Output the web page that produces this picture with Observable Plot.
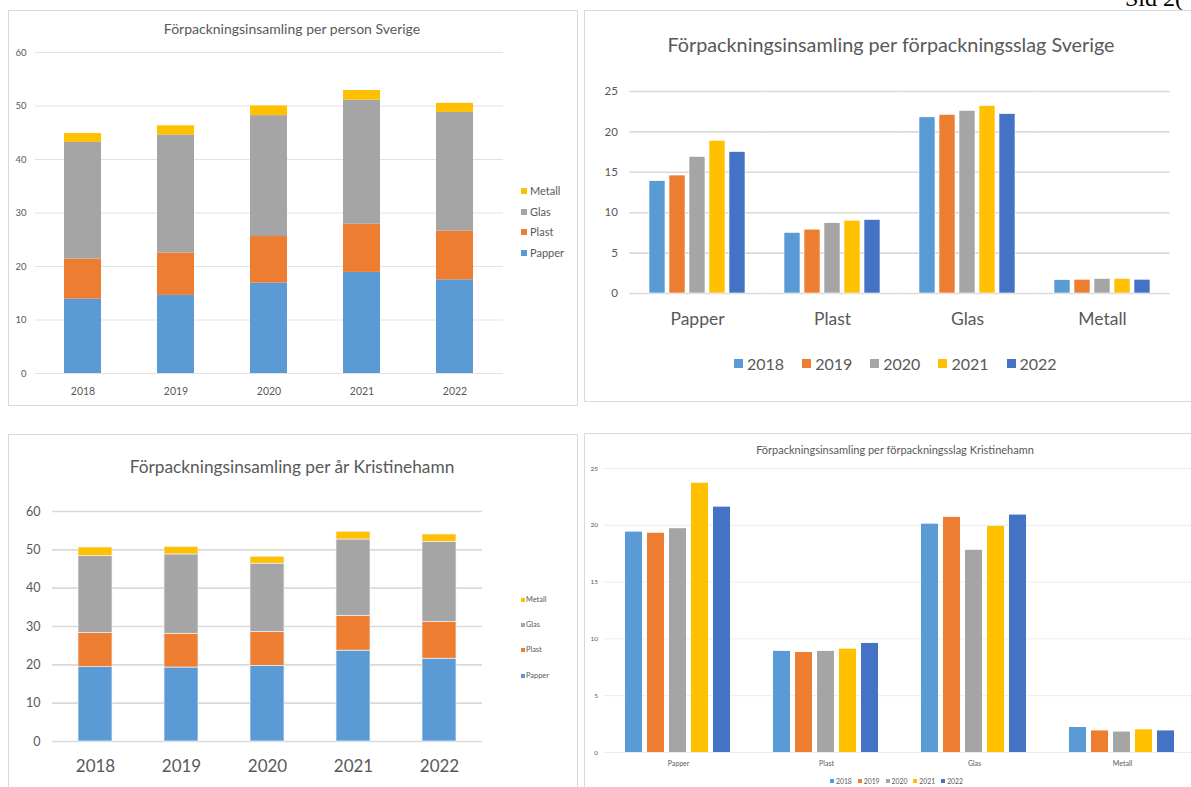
<!DOCTYPE html>
<html>
<head>
<meta charset="utf-8">
<script src="https://cdn.jsdelivr.net/npm/d3@7"></script>
<script src="https://cdn.jsdelivr.net/npm/@observablehq/plot@0.6"></script>
<style>
  html, body { margin: 0; padding: 0; background: #fff; }
  body { width: 1191px; height: 787px; overflow: hidden; position: relative; font-family: Lato, "Open Sans", sans-serif; color: #595959; }
  .panel { position: absolute; border: 1.5px solid #d9d9d9; box-sizing: border-box; background: #fff; }
  .abs { position: absolute; }
  .title { position: absolute; white-space: nowrap; transform: translateX(-50%); line-height: 1.2; color: #595959; }
  .legv { position: absolute; display: flex; align-items: center; white-space: nowrap; line-height: 1.2; color: #595959; }
  .legv i { display: inline-block; flex: none; }
  .legh { position: absolute; display: flex; align-items: center; white-space: nowrap; line-height: 1.2; color: #595959; }
  .legh span { display: flex; align-items: center; }
  .legh i { display: inline-block; flex: none; }
</style>
</head>
<body>
<script>
// ---------- DATA ----------
const years = ["2018", "2019", "2020", "2021", "2022"];
const materials = ["Papper", "Plast", "Glas", "Metall"];

// Förpackningsinsamling Sverige (kg per person)
const sverigePapper = [13.9, 14.6, 16.9, 18.9, 17.5];
const sverigePlast  = [7.5, 7.9, 8.7, 9.0, 9.1];
const sverigeGlas   = [21.8, 22.1, 22.6, 23.2, 22.2];
const sverigeMetall = [1.65, 1.7, 1.8, 1.8, 1.7];

// Förpackningsinsamling Kristinehamn (kg per person)
const kristPapper = [19.4, 19.3, 19.7, 23.7, 21.6];
const kristPlast  = [8.9, 8.8, 8.9, 9.1, 9.6];
const kristGlas   = [20.1, 20.7, 17.8, 19.9, 20.9];
const kristMetall = [2.2, 1.9, 1.8, 2.0, 1.9];

// tick labels
const ticks60 = [0, 10, 20, 30, 40, 50, 60];
const ticks25 = [0, 5, 10, 15, 20, 25];

// titles
const title1 = "Förpackningsinsamling per person Sverige";
const title2 = "Förpackningsinsamling per förpackningsslag Sverige";
const title3 = "Förpackningsinsamling per år Kristinehamn";
const title4 = "Förpackningsinsamling per förpackningsslag Kristinehamn";
const pageText = "Sid 2(";

// colours
const materialColors = ["#5B9BD5", "#ED7D31", "#A5A5A5", "#FFC000"];
const yearColors = ["#5B9BD5", "#ED7D31", "#A5A5A5", "#FFC000", "#4472C4"];

// ---------- helpers ----------
function table(series) {
  const rows = [];
  materials.forEach((m, i) => years.forEach((y, j) => rows.push({material: m, year: y, value: series[i][j]})));
  return rows;
}
const sverigeRows = table([sverigePapper, sverigePlast, sverigeGlas, sverigeMetall]);
const kristRows = table([kristPapper, kristPlast, kristGlas, kristMetall]);

function el(tag, cls, css, text) {
  const e = document.createElement(tag);
  if (cls) e.className = cls;
  Object.assign(e.style, css || {});
  if (text != null) e.textContent = text;
  document.body.appendChild(e);
  return e;
}
function place(node, left, top) {
  node.style.position = "absolute";
  node.style.left = left + "px";
  node.style.top = top + "px";
  document.body.appendChild(node);
}
function title(text, cx, cy, size) {
  el("div", "title", {left: cx + "px", top: (cy - size * 0.62) + "px", fontSize: size + "px"}, text);
}
function vlegend(left, ys, size, sq, gap) {
  const names = materials.slice().reverse();
  const cols = materialColors.slice().reverse();
  names.forEach((n, i) => {
    const d = el("div", "legv", {left: left + "px", top: (ys[i] - size * 0.6) + "px", fontSize: size + "px"});
    const s = document.createElement("i");
    Object.assign(s.style, {width: sq + "px", height: sq + "px", background: cols[i], marginRight: gap + "px"});
    d.appendChild(s);
    d.appendChild(document.createTextNode(n));
  });
}
function hlegend(left, cy, size, sq, gapIn, gapOut) {
  const d = el("div", "legh", {left: left + "px", top: (cy - size * 0.6) + "px", fontSize: size + "px", gap: gapOut + "px"});
  years.forEach((y, i) => {
    const sp = document.createElement("span");
    const s = document.createElement("i");
    Object.assign(s.style, {width: sq + "px", height: sq + "px", background: yearColors[i], marginRight: gapIn + "px"});
    sp.appendChild(s);
    sp.appendChild(document.createTextNode(y));
    d.appendChild(sp);
  });
}
const baseStyle = {fontFamily: "Lato, 'Open Sans', sans-serif", color: "#595959", background: "transparent", overflow: "visible"};

// ---------- page number (cut off at top, as in the scanned page) ----------
el("div", "abs", {left: "1125px", top: "-14px", fontFamily: "'Liberation Serif', serif", fontSize: "24px", lineHeight: "1", color: "#000", whiteSpace: "nowrap"}, pageText);

// ---------- panels ----------
el("div", "panel", {left: "8px", top: "10px", width: "570px", height: "396px"});
el("div", "panel", {left: "584px", top: "10px", width: "640px", height: "392px"});
el("div", "panel", {left: "8px", top: "434px", width: "570px", height: "400px"});
el("div", "panel", {left: "584px", top: "433px", width: "640px", height: "400px"});

// ---------- Chart 1: per person Sverige (stacked) ----------
title(title1, 292, 30, 14);
place(Plot.plot({
  width: 568, height: 393,
  marginLeft: 26, marginRight: 74, marginTop: 41, marginBottom: 31,
  style: baseStyle,
  x: {domain: years, paddingInner: 0.6, paddingOuter: 0.3},
  y: {domain: [0, 60]},
  color: {domain: materials, range: materialColors},
  marks: [
    Plot.ruleY(ticks60, {stroke: "#e2e2e2", strokeWidth: 1}),
    Plot.barY(sverigeRows, {x: "year", y: "value", fill: "material"}),
    Plot.axisX({tickSize: 0, tickPadding: 14, fontSize: 10.5, label: null}),
    Plot.axisY({ticks: ticks60, tickSize: 0, tickPadding: 9, fontSize: 9.5, label: null})
  ]
}), 9, 11);
vlegend(521, [191, 212, 232, 253], 11, 6, 3);

// ---------- Chart 2: per förpackningsslag Sverige (grouped) ----------
title(title2, 891, 45, 19.8);
place(Plot.plot({
  width: 606, height: 389,
  marginLeft: 43, marginRight: 21, marginTop: 80, marginBottom: 107,
  style: baseStyle,
  fx: {domain: materials, paddingInner: 0.26, paddingOuter: 0.13},
  x: {domain: years, paddingInner: 0.2, paddingOuter: 0, axis: null},
  y: {domain: [0, 25]},
  color: {domain: years, range: yearColors},
  marks: [
    Plot.ruleY(ticks25, {stroke: "#d9d9d9", strokeWidth: 1.6, insetLeft: -17.6, insetRight: -17.6}),
    Plot.barY(sverigeRows, {fx: "material", x: "year", y: "value", fill: "year", stroke: "#fff", strokeWidth: 0.6}),
    Plot.axisFx({anchor: "bottom", tickSize: 0, tickPadding: 19, fontSize: 17.5, label: null}),
    Plot.axisY({ticks: ticks25, tickSize: 0, tickPadding: 29.6, fontSize: 11.5, label: null})
  ]
}), 585, 11);
hlegend(734, 364, 16, 9, 4, 18);

// ---------- Chart 3: per år Kristinehamn (stacked) ----------
title(title3, 292, 467.5, 17.3);
place(Plot.plot({
  width: 568, height: 351,
  marginLeft: 43, marginRight: 95, marginTop: 75, marginBottom: 46,
  style: baseStyle,
  x: {domain: years, paddingInner: 0.6, paddingOuter: 0.3},
  y: {domain: [0, 60]},
  color: {domain: materials, range: materialColors},
  marks: [
    Plot.ruleY(ticks60, {stroke: "#d9d9d9", strokeWidth: 1.6}),
    Plot.barY(kristRows, {x: "year", y: "value", fill: "material", stroke: "#f2f2f2", strokeWidth: 0.7}),
    Plot.axisX({tickSize: 0, tickPadding: 18, fontSize: 17, label: null}),
    Plot.axisY({ticks: ticks60, tickSize: 0, tickPadding: 12, fontSize: 12.5, label: null})
  ]
}), 9, 436);
vlegend(521, [600, 625, 650, 676], 7.4, 4, 1);

// ---------- Chart 4: per förpackningsslag Kristinehamn (grouped) ----------
title(title4, 895, 450, 11);
place(Plot.plot({
  width: 620, height: 353,
  marginLeft: 19, marginRight: 8, marginTop: 34, marginBottom: 35,
  style: baseStyle,
  fx: {domain: materials, paddingInner: 0.27, paddingOuter: 0.135},
  x: {domain: years, paddingInner: 0.21, paddingOuter: 0, axis: null},
  y: {domain: [0, 25]},
  color: {domain: years, range: yearColors},
  marks: [
    Plot.ruleY(ticks25, {stroke: "#ececec", strokeWidth: 1, insetLeft: -20, insetRight: -20}),
    Plot.barY(kristRows, {fx: "material", x: "year", y: "value", fill: "year"}),
    Plot.axisFx({anchor: "bottom", tickSize: 0, tickPadding: 8.5, fontSize: 7, label: null}),
    Plot.axisY({ticks: ticks25, tickSize: 0, tickPadding: 26.5, fontSize: 6.5, label: null})
  ]
}), 585, 434);
hlegend(830, 781, 6.8, 4, 2, 6);
</script>
</body>
</html>
